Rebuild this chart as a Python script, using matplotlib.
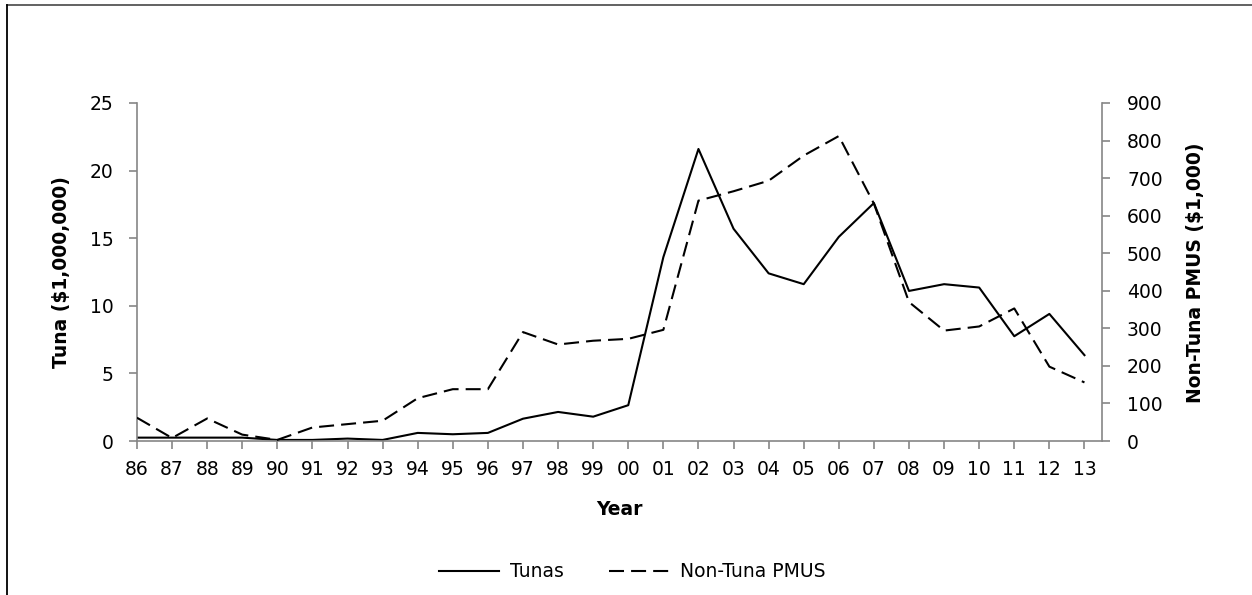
import numpy as np
import matplotlib
matplotlib.use("Agg")
import matplotlib.pyplot as plt
from matplotlib.lines import Line2D

plt.rcParams['font.family'] = ['DejaVu Sans']

years = ['86', '87', '88', '89', '90', '91', '92', '93', '94', '95', '96', '97', '98', '99',
         '00', '01', '02', '03', '04', '05', '06', '07', '08', '09', '10', '11', '12', '13']
tunas = [0.25, 0.25, 0.25, 0.25, 0.08, 0.08, 0.18, 0.08, 0.6, 0.5, 0.6, 1.65, 2.15, 1.8,
         2.65, 13.6, 21.6, 15.7, 12.4, 11.6, 15.1, 17.6, 11.1, 11.6, 11.35, 7.75, 9.4, 6.35]
non_tuna = [62, 8, 60, 17, 3, 36, 45, 54, 114, 138, 138, 290, 257, 267,
            272, 296, 640, 665, 693, 760, 812, 632, 370, 294, 305, 353, 198, 156]

grey = '#868686'
fs = 13.5
x = np.arange(len(years))

fig = plt.figure(figsize=(12.52, 5.95), dpi=100)
ax = fig.add_axes([0.1094, 0.2588, 0.7708, 0.5681])
ax2 = ax.twinx()

l1, = ax.plot(x, tunas, color='black', lw=1.5)
l2, = ax2.plot(x, non_tuna, color='black', lw=1.5, dashes=(7.2, 3.4))

ax.set_xlim(0, 27.5)
ax.set_ylim(0, 25)
ax2.set_ylim(0, 900)
ax.set_yticks(np.arange(0, 26, 5))
ax2.set_yticks(np.arange(0, 901, 100))
ax.set_xticks(x)
ax.set_xticklabels(years)

for a in (ax, ax2):
    for s in a.spines.values():
        s.set_visible(False)
    a.tick_params(colors=grey, labelcolor='black', labelsize=fs, width=1.2, length=6)
ax.spines['left'].set_visible(True)
ax.spines['bottom'].set_visible(True)
ax2.spines['right'].set_visible(True)
for s in (ax.spines['left'], ax.spines['bottom'], ax2.spines['right']):
    s.set_color(grey)
    s.set_linewidth(1.2)
ax.tick_params(axis='x', pad=8)
ax.tick_params(axis='y', pad=11)
ax2.tick_params(axis='y', pad=12)

# axis titles placed in figure coordinates
fig.text(0.0495, 0.542, 'Tuna ($1,000,000)', rotation=90, ha='center', va='center',
         fontsize=fs, fontweight='bold')
fig.text(0.955, 0.542, 'Non-Tuna PMUS ($1,000)', rotation=90, ha='center', va='center',
         fontsize=fs, fontweight='bold')
fig.text(0.495, 0.143, 'Year', ha='center', va='center', fontsize=fs, fontweight='bold')

fig.legend([l1, l2], ['Tunas', 'Non-Tuna PMUS'], loc='center', bbox_to_anchor=(0.505, 0.039),
           ncol=2, frameon=False, fontsize=fs, handlelength=3.2, handletextpad=0.6,
           columnspacing=2.4)

# outer frame
fig.add_artist(Line2D([0.0056, 1.0], [0.992, 0.992], transform=fig.transFigure, color='#555555', lw=1.3))
fig.add_artist(Line2D([0.0056, 0.0056], [0.0, 0.992], transform=fig.transFigure, color='black', lw=1.3))

fig.savefig('out.png', dpi=100)
